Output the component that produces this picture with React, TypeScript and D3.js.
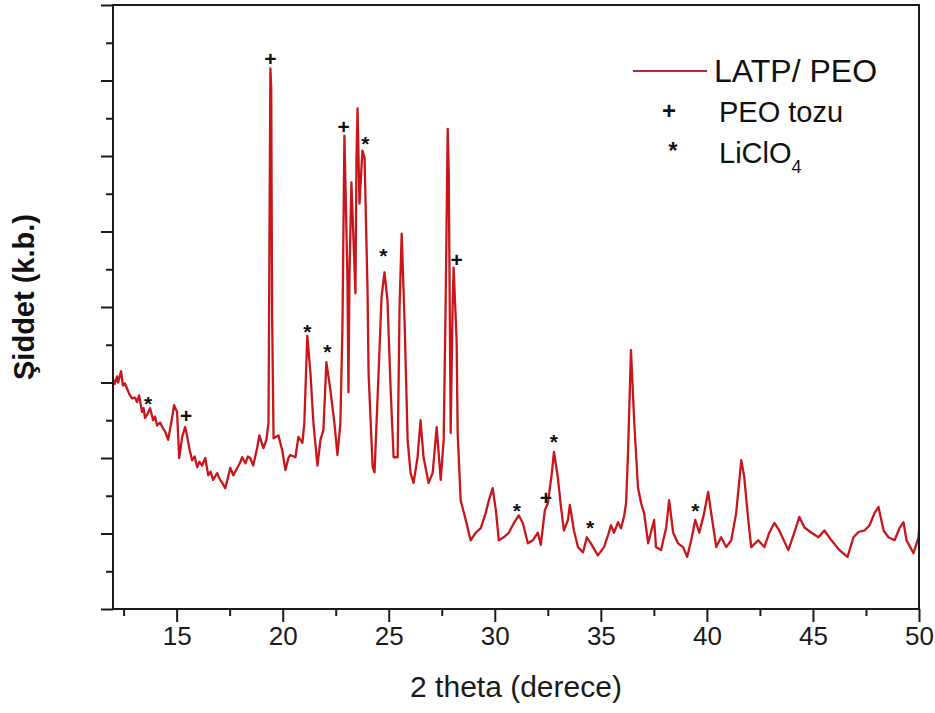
import { useEffect, useRef } from "react";
import * as d3 from "d3";

// XRD pattern (2θ in degrees, intensity in arbitrary units)
const theta = [
  12.0, 12.08, 12.19, 12.24, 12.38, 12.47, 12.56, 12.66, 12.78, 12.9, 13.04, 13.13, 13.23, 13.37,
  13.44, 13.51, 13.62, 13.75, 13.89, 13.98, 14.08, 14.22, 14.36, 14.46, 14.55, 14.6, 14.79, 14.88,
  15.02, 15.12, 15.26, 15.4, 15.5, 15.62, 15.73, 15.85, 15.97, 16.08, 16.2, 16.35, 16.49, 16.6,
  16.72, 16.91, 17.03, 17.15, 17.29, 17.42, 17.53, 17.67, 17.86, 17.98, 18.09, 18.24, 18.36, 18.47,
  18.61, 18.8, 18.9, 19.09, 19.23, 19.33, 19.37, 19.42, 19.46, 19.5, 19.57, 19.8, 19.98, 20.13,
  20.27, 20.36, 20.6, 20.74, 20.93, 21.02, 21.16, 21.31, 21.45, 21.64, 21.78, 21.92, 22.06, 22.25,
  22.44, 22.58, 22.72, 22.82, 22.91, 23.05, 23.1, 23.15, 23.24, 23.34, 23.43, 23.48, 23.53, 23.62,
  23.76, 23.86, 24.0, 24.05, 24.24, 24.33, 24.52, 24.66, 24.8, 24.94, 25.09, 25.23, 25.42, 25.51,
  25.61, 25.75, 25.89, 26.03, 26.17, 26.36, 26.5, 26.64, 26.88, 27.07, 27.26, 27.45, 27.59, 27.68,
  27.78, 27.83, 27.92, 28.01, 28.06, 28.2, 28.25, 28.39, 28.63, 28.86, 29.1, 29.34, 29.57, 29.72,
  29.9, 30.05, 30.19, 30.42, 30.66, 30.9, 31.13, 31.32, 31.56, 31.79, 32.03, 32.17, 32.36, 32.5,
  32.69, 32.79, 32.97, 33.12, 33.26, 33.45, 33.54, 33.73, 33.92, 34.16, 34.34, 34.53, 34.86, 35.15,
  35.34, 35.48, 35.62, 35.81, 35.95, 36.09, 36.19, 36.28, 36.42, 36.57, 36.75, 36.9, 37.04, 37.23,
  37.51, 37.6, 37.84, 38.08, 38.22, 38.41, 38.64, 38.88, 39.07, 39.26, 39.45, 39.64, 39.87, 40.06,
  40.25, 40.44, 40.67, 40.91, 41.15, 41.38, 41.62, 41.76, 41.95, 42.09, 42.42, 42.71, 42.94, 43.18,
  43.41, 43.84, 44.12, 44.36, 44.6, 44.93, 45.26, 45.54, 45.87, 46.25, 46.63, 46.91, 47.15, 47.43,
  47.67, 47.9, 48.09, 48.33, 48.56, 48.85, 49.08, 49.27, 49.41, 49.74, 49.98, 50.0,
];
const intensity = [
  3.04, 2.98, 3.08, 3.0, 3.15, 2.96, 2.99, 2.92, 2.84, 2.79, 2.8, 2.74, 2.83, 2.61,
  2.66, 2.53, 2.58, 2.66, 2.5, 2.55, 2.43, 2.47, 2.39, 2.35, 2.28, 2.24, 2.54, 2.7,
  2.61, 2.0, 2.28, 2.41, 2.28, 2.1, 1.97, 2.02, 1.88, 1.95, 1.9, 2.0, 1.77, 1.82,
  1.71, 1.8, 1.72, 1.67, 1.6, 1.74, 1.87, 1.77, 1.87, 1.93, 2.01, 1.93, 2.02, 2.0,
  1.9, 2.14, 2.3, 2.13, 2.24, 2.46, 4.5, 7.16, 6.9, 3.92, 2.26, 2.3, 2.1, 1.84,
  2.0, 2.04, 2.01, 2.28, 2.2, 2.46, 3.62, 3.12, 2.46, 1.9, 2.24, 2.37, 3.27, 2.9,
  2.46, 2.04, 2.46, 3.78, 6.27, 4.44, 2.87, 4.44, 5.65, 4.88, 4.18, 5.98, 6.63, 5.37,
  6.07, 5.98, 4.22, 3.12, 1.88, 1.81, 3.12, 4.13, 4.46, 4.09, 2.9, 2.01, 2.01, 3.99,
  4.97, 3.78, 2.24, 1.8, 1.67, 2.01, 2.5, 2.01, 1.67, 1.8, 2.41, 1.71, 2.24, 3.99,
  6.36, 5.77, 2.33, 3.99, 4.52, 3.56, 2.33, 1.44, 1.18, 0.91, 1.01, 1.07, 1.27, 1.44,
  1.6, 1.31, 0.91, 0.95, 1.01, 1.14, 1.24, 1.14, 0.87, 0.91, 1.01, 0.85, 1.31, 1.4,
  1.8, 2.08, 1.75, 1.35, 1.04, 1.18, 1.38, 1.04, 0.82, 0.75, 0.95, 0.87, 0.71, 0.82,
  0.98, 1.11, 1.01, 1.15, 1.07, 1.22, 1.4, 2.06, 3.43, 2.5, 1.61, 1.4, 1.27, 0.87,
  1.18, 0.82, 0.78, 1.08, 1.44, 1.01, 0.87, 0.82, 0.69, 0.91, 1.18, 1.01, 1.27, 1.55,
  1.18, 0.82, 0.95, 0.82, 0.91, 1.27, 1.97, 1.75, 1.18, 0.82, 0.91, 0.82, 1.01, 1.14,
  1.04, 0.78, 1.01, 1.22, 1.08, 1.01, 0.95, 1.04, 0.91, 0.78, 0.69, 0.95, 1.02, 1.04,
  1.11, 1.27, 1.35, 1.04, 0.95, 0.91, 1.07, 1.15, 0.91, 0.74, 0.95, 1.04,
];

// peak markers: "+" PEO powder, "*" LiClO4
const plusTheta = [15.45, 19.42, 22.87, 28.2, 32.41];
const plusY = [2.55, 7.28, 6.38, 4.62, 1.47];
const starTheta = [13.65, 21.16, 22.11, 23.9, 24.75, 31.04, 32.79, 34.49, 39.45];
const starY = [2.78, 3.74, 3.47, 6.22, 4.74, 1.36, 2.28, 1.14, 1.36];

const xTicks = [15, 20, 25, 30, 35, 40, 45, 50];
const xMinor = [12.5, 17.5, 22.5, 27.5, 32.5, 37.5, 42.5, 47.5];
const yTicks = [0, 1, 2, 3, 4, 5, 6, 7, 8];
const yMinor = [0.5, 1.5, 2.5, 3.5, 4.5, 5.5, 6.5, 7.5];

const xTitle = "2 theta (derece)";
const yTitle = "Şiddet (k.b.)";
const seriesLabel = "LATP/ PEO";
const plusLabel = "PEO tozu";
const starLabel = "LiClO";

const W = 935;
const H = 713;
const FONT = "Arial, 'Liberation Sans', sans-serif";
const RED = "#c8161a";
const INK = "#1a1a1a";

export default function App() {
  const ref = useRef<SVGSVGElement>(null);

  useEffect(() => {
    document.body.style.margin = "0";
    if (!ref.current) return;
    const svg = d3.select(ref.current);
    svg.selectAll("*").remove();

    const x = d3.scaleLinear().domain([12, 50]).range([113, 919]);
    const y = d3.scaleLinear().domain([0, 8]).range([609, 5]);

    svg.append("rect").attr("width", W).attr("height", H).attr("fill", "#fff");

    // curve
    const pts = theta.map((t, i) => [t, intensity[i]] as [number, number]);
    const line = d3
      .line<[number, number]>()
      .x((d) => x(d[0]))
      .y((d) => y(d[1]));
    svg
      .append("path")
      .datum(pts)
      .attr("d", line)
      .attr("fill", "none")
      .attr("stroke", RED)
      .attr("stroke-width", 2.3)
      .attr("stroke-linejoin", "round");

    // frame
    svg
      .append("rect")
      .attr("x", x(12))
      .attr("y", y(8))
      .attr("width", x(50) - x(12))
      .attr("height", y(0) - y(8))
      .attr("fill", "none")
      .attr("stroke", INK)
      .attr("stroke-width", 2);

    const styleAxis = (g: d3.Selection<SVGGElement, unknown, null, undefined>) => {
      g.select(".domain").remove();
      g.selectAll(".tick line").attr("stroke", INK).attr("stroke-width", 2);
    };

    // x axis
    svg
      .append("g")
      .attr("transform", `translate(0,${y(0)})`)
      .call(d3.axisBottom(x).tickValues(xTicks).tickSize(13).tickPadding(10).tickFormat(d3.format("d")))
      .call(styleAxis)
      .call((g) =>
        g
          .selectAll(".tick text")
          .attr("font-family", FONT)
          .attr("font-size", 26)
          .attr("fill", INK)
          .attr("dy", "0.5em")
      );
    svg
      .append("g")
      .attr("transform", `translate(0,${y(0)})`)
      .call(d3.axisBottom(x).tickValues(xMinor).tickSize(7).tickFormat(() => ""))
      .call(styleAxis);

    // y axis (no labels)
    svg
      .append("g")
      .attr("transform", `translate(${x(12)},0)`)
      .call(d3.axisLeft(y).tickValues(yTicks).tickSize(12).tickFormat(() => ""))
      .call(styleAxis);
    svg
      .append("g")
      .attr("transform", `translate(${x(12)},0)`)
      .call(d3.axisLeft(y).tickValues(yMinor).tickSize(7).tickFormat(() => ""))
      .call(styleAxis);

    // peak markers
    const marks = svg.append("g").attr("font-family", FONT).attr("fill", "#111").attr("text-anchor", "middle");
    plusTheta.forEach((t, i) => {
      marks
        .append("text")
        .attr("x", x(t))
        .attr("y", y(plusY[i]) + 7)
        .attr("font-size", 21)
        .attr("font-weight", "bold")
        .text("+");
    });
    starTheta.forEach((t, i) => {
      marks
        .append("text")
        .attr("x", x(t))
        .attr("y", y(starY[i]) + 12)
        .attr("font-size", 21)
        .attr("font-weight", "bold")
        .text("*");
    });

    // titles
    svg
      .append("text")
      .attr("x", 516)
      .attr("y", 697)
      .attr("text-anchor", "middle")
      .attr("font-family", FONT)
      .attr("font-size", 30)
      .attr("fill", INK)
      .text(xTitle);
    svg
      .append("text")
      .attr("transform", "translate(34,297) rotate(-90)")
      .attr("text-anchor", "middle")
      .attr("font-family", FONT)
      .attr("font-size", 29)
      .attr("font-weight", "bold")
      .attr("fill", "#111")
      .text(yTitle);

    // legend
    const lg = svg.append("g").attr("font-family", FONT).attr("fill", "#111");
    lg.append("line")
      .attr("x1", 633)
      .attr("x2", 707)
      .attr("y1", 71)
      .attr("y2", 71)
      .attr("stroke", "#b52a2a")
      .attr("stroke-width", 2);
    lg.append("text").attr("x", 714).attr("y", 82).attr("font-size", 32).text(seriesLabel);
    lg.append("text").attr("x", 669).attr("y", 119).attr("font-size", 24).attr("font-weight", "bold").attr("text-anchor", "middle").text("+");
    lg.append("text").attr("x", 719).attr("y", 122).attr("font-size", 29).text(plusLabel);
    lg.append("text").attr("x", 673).attr("y", 159).attr("font-size", 23).attr("font-weight", "bold").attr("text-anchor", "middle").text("*");
    const lt = lg.append("text").attr("x", 719).attr("y", 163).attr("font-size", 29);
    lt.append("tspan").text(starLabel);
    lt.append("tspan").attr("font-size", 18).attr("dy", 10).text("4");
  }, []);

  return <svg ref={ref} width={W} height={H} style={{ display: "block" }} />;
}
